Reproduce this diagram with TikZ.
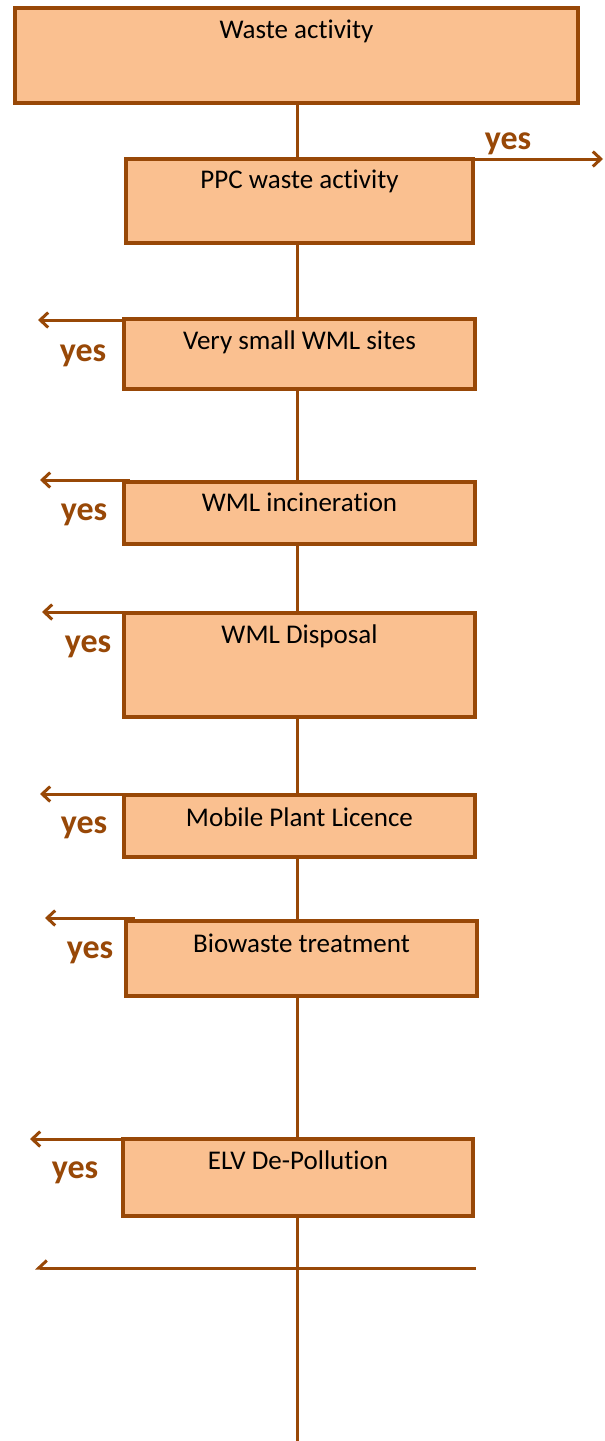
\documentclass[tikz,border=0pt]{standalone}
\usepackage{fontspec}
\setmainfont{Carlito}[Ligatures=NoCommon]
\usetikzlibrary{arrows.meta,backgrounds}
\definecolor{brn}{RGB}{152,72,7}
\definecolor{pch}{RGB}{250,192,144}
\begin{document}
\begin{tikzpicture}[x=1pt,y=-1pt,
  box/.style={draw=brn,fill=pch,line width=3.2pt,inner ysep=0pt,anchor=base,
    font=\fontsize{27}{32}\selectfont,text=black},
  link/.style={draw=brn,line width=3pt},
  arr/.style={link,-{Straight Barb[length=8pt,width=15pt]}},
  halfarr/.style={link,-{Straight Barb[length=8pt,width=15pt,harpoon,swap]}},
  yes/.style={text=brn,font=\fontsize{34}{38}\selectfont\bfseries,inner sep=0pt}]
\useasboundingbox (0,0) rectangle (605,1441);

% decision boxes, top to bottom
\node[box,minimum width=563pt,text height=30pt,text depth=65pt] (b1) at (296.5,38) {Waste activity};
\node[box,minimum width=347pt,text height=29pt,text depth=55pt] (b2) at (299.5,188) {PPC waste activity};
\node[box,minimum width=351pt,text height=30pt,text depth=40pt] (b3) at (299.5,349) {Very small WML sites};
\node[box,minimum width=351pt,text height=29pt,text depth=33pt] (b4) at (299.5,511) {WML incineration};
\node[box,minimum width=351pt,text height=30pt,text depth=74pt] (b5) at (299.5,643) {WML Disposal};
\node[box,minimum width=351pt,text height=31pt,text depth=31pt] (b6) at (299.5,826) {Mobile Plant Licence};
\node[box,minimum width=351pt,text height=31pt,text depth=44pt] (b7) at (301.5,952) {Biowaste treatment};
\node[box,minimum width=350pt,text height=30pt,text depth=47pt] (b8) at (298,1169) {ELV De-Pollution};

% main spine behind the boxes
\coordinate (end) at (297,1441);
\begin{pgfonlayer}{background}
  \draw[link] (b1.south -| end) -- (end);
\end{pgfonlayer}

% "yes" exits
\coordinate (s2) at (473,159);  \coordinate (r2) at (603,159);
\draw[arr] (s2) -- (r2);
\node[yes] (y2) at (508,144) {yes};

\coordinate (s3) at (124,320);  \coordinate (l3) at (38,320);
\draw[arr] (s3) -- (l3);
\node[yes] (y3) at (83,356) {yes};

\coordinate (s4) at (130,480);  \coordinate (l4) at (40,480);
\draw[arr] (s4) -- (l4);
\node[yes] (y4) at (84,515) {yes};

\coordinate (s5) at (133,612);  \coordinate (l5) at (42,612);
\draw[arr] (s5) -- (l5);
\node[yes] (y5) at (88,647) {yes};

\coordinate (s6) at (130,794);  \coordinate (l6) at (40,794);
\draw[arr] (s6) -- (l6);
\node[yes] (y6) at (84,828) {yes};

\coordinate (s7) at (135,918);  \coordinate (l7) at (45,918);
\draw[arr] (s7) -- (l7);
\node[yes] (y7) at (90,953) {yes};

\coordinate (s8) at (121,1139); \coordinate (l8) at (30,1139);
\draw[arr] (s8) -- (l8);
\node[yes] (y8) at (75,1173) {yes};

% last crossing line
\coordinate (s9) at (476,1268); \coordinate (l9) at (35,1268);
\draw[halfarr] (s9) -- (l9);
\end{tikzpicture}
\end{document}
